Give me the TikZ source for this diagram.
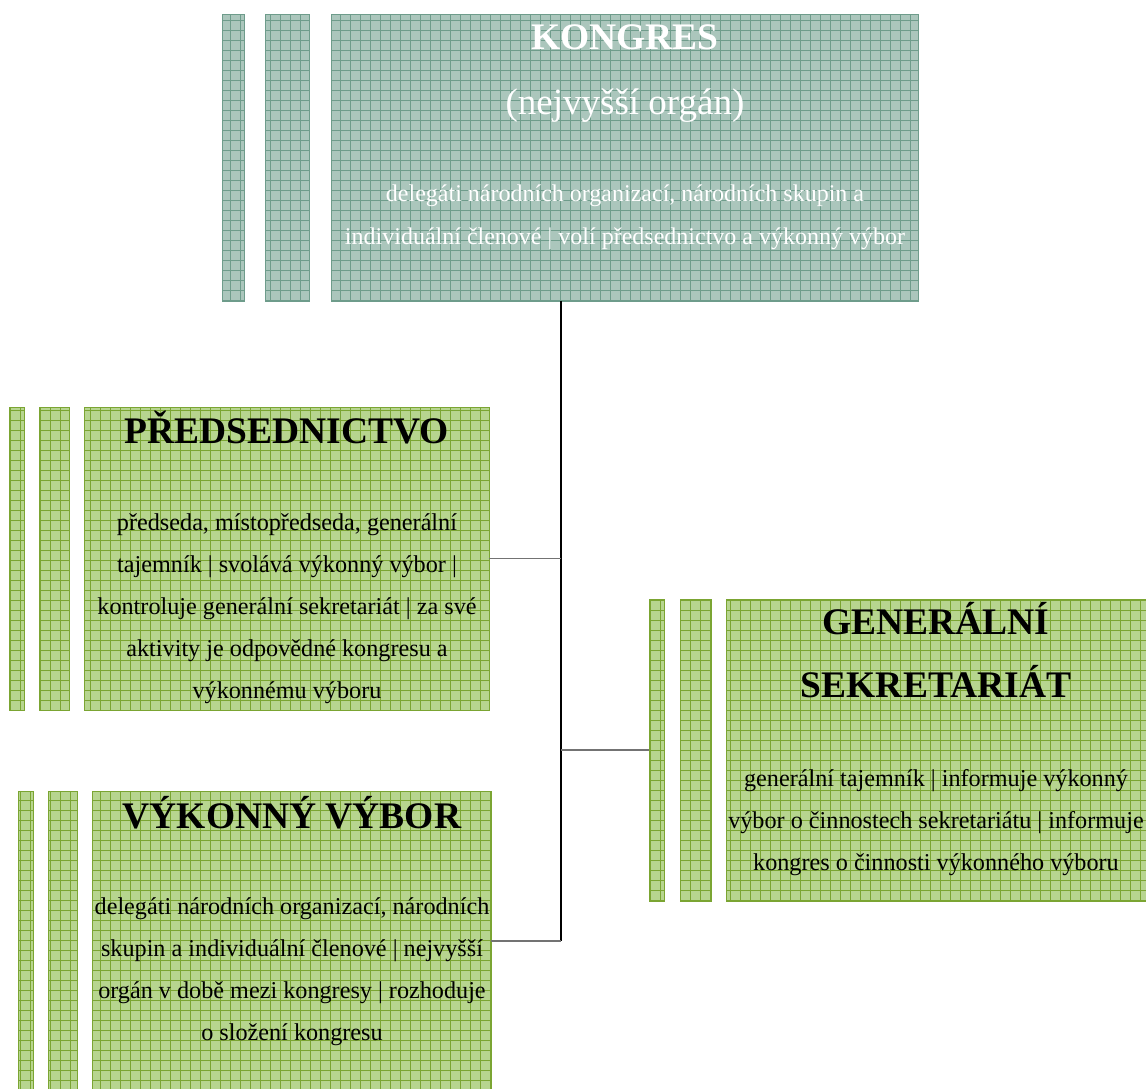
\documentclass[tikz,border=0pt]{standalone}
\usepackage{fontspec}
\setmainfont{Liberation Serif}
\usetikzlibrary{positioning}

\definecolor{zelenaVypln}{HTML}{B7D58F}
\definecolor{zelenaCara}{HTML}{7BA532}
\definecolor{modraVypln}{HTML}{ABC6BC}
\definecolor{modraCara}{HTML}{6E9C8B}

% mrizka pres obdelnik uzlu: #1 = uzel, #2 = barva car
\newcommand{\mrizka}[2]{%
  \begin{scope}
    \clip (#1.south west) rectangle (#1.north east);
    \draw[#2, line width=0.6pt, step=10pt] (#1.south west) grid (#1.north east);
  \end{scope}
  \draw[#2, line width=1pt] (#1.south west) rectangle (#1.north east);
}

\begin{document}
\begin{tikzpicture}[x=1pt, y=-1pt,
    blok/.style={anchor=north west, inner sep=0, outer sep=0},
    pruh/.style={inner sep=0, outer sep=0},
    zeleny/.style={fill=zelenaVypln},
    modry/.style={fill=modraVypln},
    nadpis/.style={font=\fontsize{37.5}{63}\selectfont\bfseries, anchor=base, inner sep=0, align=center},
    podnadpis/.style={font=\fontsize{37}{40}\selectfont, anchor=base, inner sep=0},
    popis/.style={font=\fontsize{24.2}{42}\selectfont, anchor=base, inner sep=0, align=center},
    spoj/.style={line width=1.3pt}]

    \useasboundingbox (0,0) rectangle (1146,1088);

    % Kongres nahore
    \node[blok, modry, minimum width=587pt, minimum height=287pt] (kongres) at (331,14) {};
    \node[pruh, modry, minimum width=44pt, minimum height=287pt, left=22pt of kongres] (kongres-p2) {};
    \node[pruh, modry, minimum width=22pt, minimum height=287pt, left=21pt of kongres-p2] (kongres-p1) {};

    % Predsednictvo vlevo
    \node[blok, zeleny, minimum width=405pt, minimum height=303pt] (predsed) at (84,407) {};
    \node[pruh, zeleny, minimum width=30pt, minimum height=303pt, left=15pt of predsed] (predsed-p2) {};
    \node[pruh, zeleny, minimum width=15pt, minimum height=303pt, left=15pt of predsed-p2] (predsed-p1) {};

    % Vykonny vybor vlevo dole
    \node[blok, zeleny, minimum width=399pt, minimum height=300pt] (vybor) at (92,791) {};
    \node[pruh, zeleny, minimum width=29pt, minimum height=300pt, left=15pt of vybor] (vybor-p2) {};
    \node[pruh, zeleny, minimum width=15pt, minimum height=300pt, left=15pt of vybor-p2] (vybor-p1) {};

    % Generalni sekretariat vpravo
    \node[blok, zeleny, minimum width=422pt, minimum height=302pt] (sekr) at (726,599) {};
    \node[pruh, zeleny, minimum width=31pt, minimum height=302pt, left=15pt of sekr] (sekr-p2) {};
    \node[pruh, zeleny, minimum width=15pt, minimum height=302pt, left=16pt of sekr-p2] (sekr-p1) {};

    % Mrizky
    \mrizka{kongres}{modraCara}
    \mrizka{kongres-p2}{modraCara}
    \mrizka{kongres-p1}{modraCara}
    \mrizka{predsed}{zelenaCara}
    \mrizka{predsed-p2}{zelenaCara}
    \mrizka{predsed-p1}{zelenaCara}
    \mrizka{vybor}{zelenaCara}
    \mrizka{vybor-p2}{zelenaCara}
    \mrizka{vybor-p1}{zelenaCara}
    \mrizka{sekr}{zelenaCara}
    \mrizka{sekr-p2}{zelenaCara}
    \mrizka{sekr-p1}{zelenaCara}

    % Texty (u viceradkovych je y uctari posledniho radku)
    \node[nadpis, text=white] (kongres-nadpis) at (625,49) {KONGRES};
    \node[podnadpis, text=white] (kongres-pod) at (625,114) {(nejvyšší orgán)};
    \node[popis, text=white, font=\fontsize{24}{43}\selectfont] (kongres-popis) at (625,244) {delegáti národních organizací, národních skupin a\\individuální členové | volí předsednictvo a výkonný výbor};

    \node[nadpis] (predsed-nadpis) at (287,443) {PŘEDSEDNICTVO};
    \node[popis] (predsed-popis) at (287,698) {předseda, místopředseda, generální\\tajemník | svolává výkonný výbor |\\kontroluje generální sekretariát | za své\\aktivity je odpovědné kongresu a\\výkonnému výboru};

    \node[nadpis] (vybor-nadpis) at (292,828) {VÝKONNÝ VÝBOR};
    \node[popis] (vybor-popis) at (292,1040) {delegáti národních organizací, národních\\skupin a individuální členové | nejvyšší\\orgán v době mezi kongresy | rozhoduje\\o složení kongresu};

    \node[nadpis] (sekr-nadpis) at (936,697) {GENERÁLNÍ\\SEKRETARIÁT};
    \node[popis] (sekr-popis) at (936,870) {generální tajemník | informuje výkonný\\výbor o činnostech sekretariátu | informuje\\kongres o činnosti výkonného výboru};

    % Spojnice
    \coordinate (kmen) at ([xshift=230pt]kongres.south west);
    \draw[spoj, black] (kmen) -- (kmen |- vybor.east);
    \draw[spoj, black!55] (predsed.east) -- (predsed.east -| kmen);
    \draw[spoj, black!55] (vybor.east) -- (vybor.east -| kmen);
    \draw[spoj, black!55] (kmen |- sekr-p1.west) -- (sekr-p1.west);
\end{tikzpicture}
\end{document}
